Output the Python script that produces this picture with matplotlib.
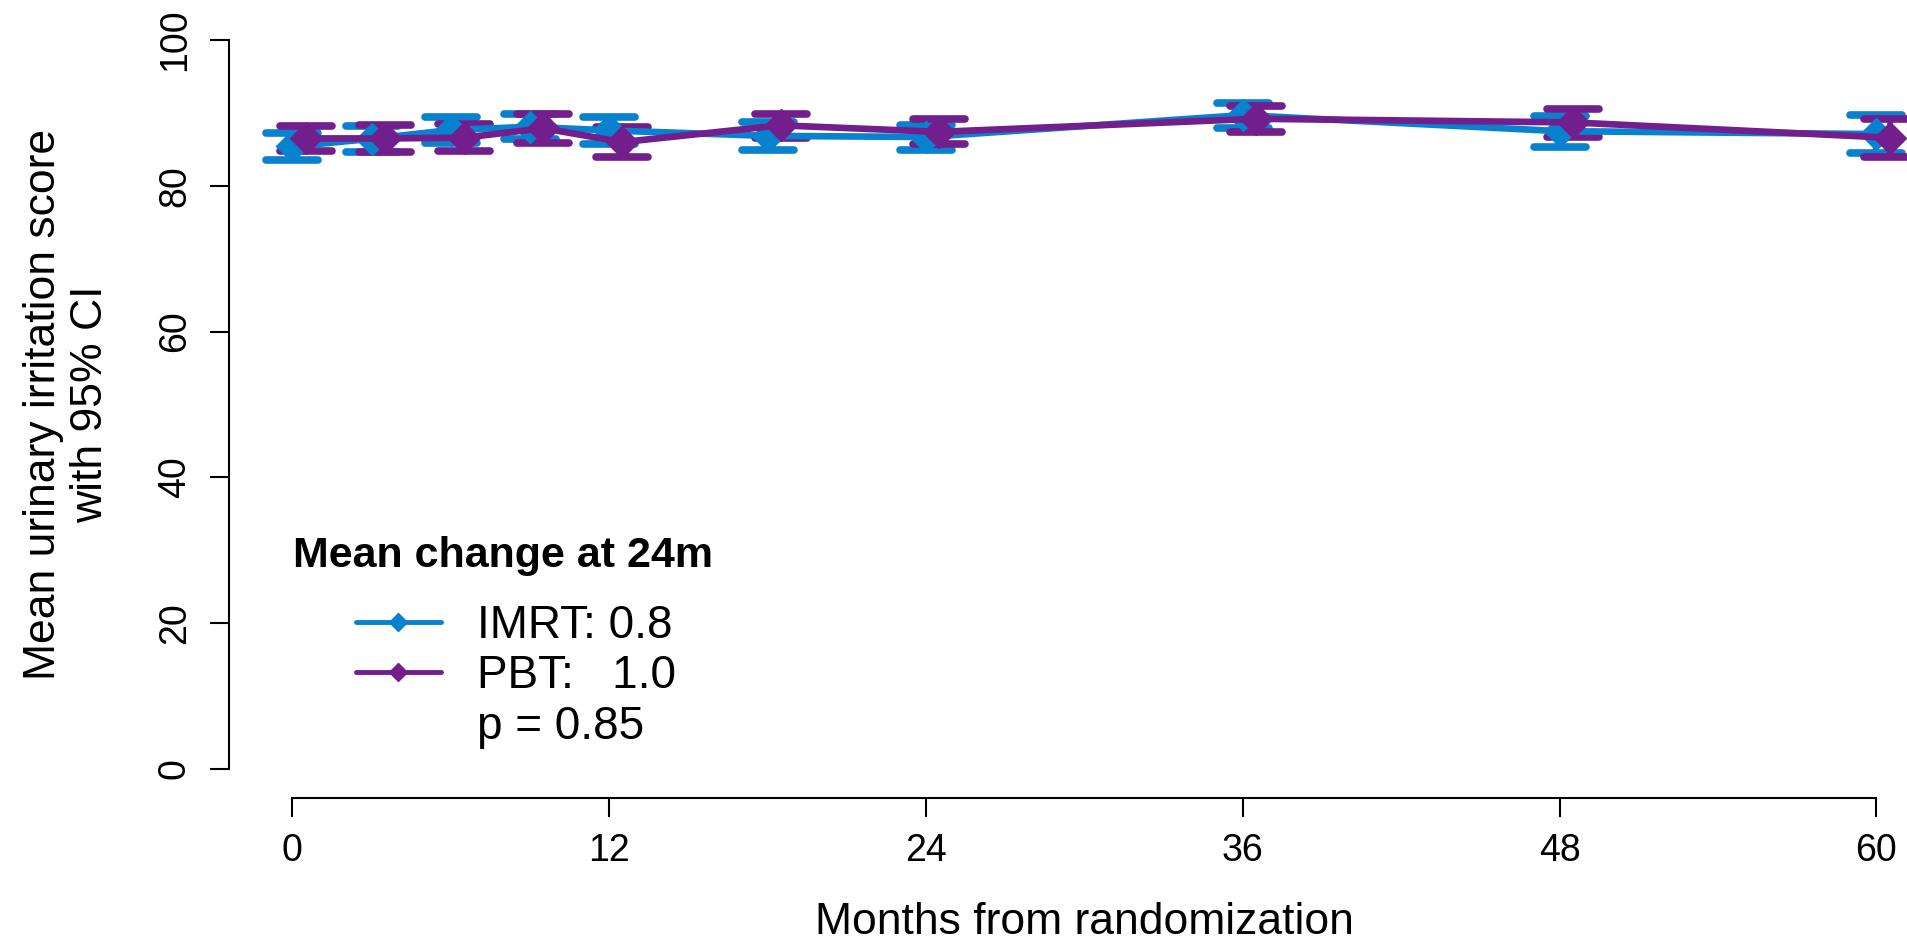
import numpy as np
import matplotlib.pyplot as plt
from matplotlib.lines import Line2D
from matplotlib.markers import MarkerStyle

plt.rcParams['font.family'] = ['Liberation Sans', 'DejaVu Sans']

months = [0, 3, 6, 9, 12, 18, 24, 36, 48, 60]

imrt_mean = [85.4, 86.45, 87.65, 88.1, 87.6, 86.85, 86.7, 89.7, 87.5, 87.1]
imrt_lo = [83.6, 84.7, 85.9, 86.4, 85.8, 84.9, 84.9, 88.0, 85.35, 84.5]
imrt_hi = [87.2, 88.2, 89.4, 89.8, 89.5, 88.8, 88.4, 91.3, 89.6, 89.7]

pbt_mean = [86.5, 86.5, 86.6, 87.9, 86.0, 88.3, 87.4, 89.2, 88.7, 86.6]
pbt_lo = [84.8, 84.6, 84.8, 85.9, 83.9, 86.6, 85.7, 87.4, 86.7, 84.0]
pbt_hi = [88.2, 88.4, 88.5, 89.9, 88.1, 89.9, 89.2, 91.0, 90.6, 89.2]

legend_title = "Mean change at 24m"
legend_labels = ["IMRT: 0.8", "PBT:   1.0", "p = 0.85"]

c_imrt = '#0882CF'
c_pbt = '#721E8C'
pbt_dodge = 0.5

W, H = 1908, 948
fig = plt.figure(figsize=(W / 100, H / 100), dpi=100)
ax = fig.add_axes([229 / W, 150 / H, 1679 / W, 787.1 / H])


def draw(x, mean, lo, hi, color):
    mean = np.array(mean)
    yerr = [mean - np.array(lo), np.array(hi) - mean]
    eb = ax.errorbar(x, mean, yerr=yerr, color=color, lw=4.8, marker='D', ms=16,
                     capsize=19, capthick=5.5, elinewidth=4, solid_capstyle='round')
    for cap in eb[1]:
        cap.set_marker(MarkerStyle('_', capstyle='round'))
    for bar in eb[2]:
        bar.set_capstyle('round')


draw(np.array(months), imrt_mean, imrt_lo, imrt_hi, c_imrt)
draw(np.array(months) + pbt_dodge, pbt_mean, pbt_lo, pbt_hi, c_pbt)

ax.set_xlim(-2.4, 61.2)
ax.set_ylim(-4, 104)
ax.set_xticks([0, 12, 24, 36, 48, 60])
ax.set_yticks([0, 20, 40, 60, 80, 100])
for s in ['top', 'right']:
    ax.spines[s].set_visible(False)
ax.spines['bottom'].set_bounds(0, 60)
ax.spines['left'].set_bounds(0, 100)
for s in ['bottom', 'left']:
    ax.spines[s].set_linewidth(1.5)
ax.tick_params(length=14, width=1.5, labelsize=27)
ax.tick_params(axis='x', pad=11)
ax.tick_params(axis='y', pad=12, labelrotation=90)
for lab in ax.get_yticklabels():
    lab.set_va('center')

ax.set_xlabel("Months from randomization", fontsize=32, va='top')
ax.xaxis.set_label_coords(0.5094, -0.1321)
ax.set_ylabel("Mean urinary irritation score\nwith 95% CI", fontsize=32)
ax.yaxis.set_label_coords(-0.0703, 0.5)

handles = [
    Line2D([], [], color=c_imrt, lw=3.5, marker='D', ms=9, solid_capstyle='round'),
    Line2D([], [], color=c_pbt, lw=3.5, marker='D', ms=9, solid_capstyle='round'),
    Line2D([], [], alpha=0),
]
ax.legend(handles, legend_labels, loc='upper left',
          bbox_to_anchor=(356 / W, 1 - 604 / H), bbox_transform=fig.transFigure,
          frameon=False, fontsize=33, handlelength=1.85, handletextpad=0.8,
          labelspacing=0.14, borderpad=0, borderaxespad=0)
fig.text(293 / W, 1 - 567 / H, legend_title, fontsize=31, fontweight='bold', va='baseline')

plt.savefig("out.png", dpi=100)
